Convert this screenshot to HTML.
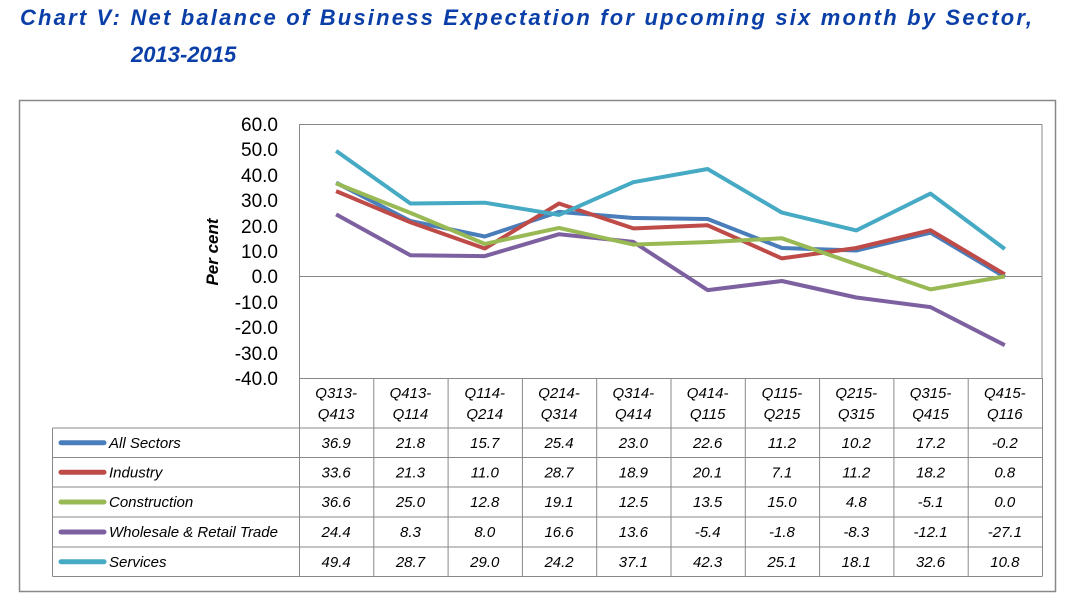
<!DOCTYPE html>
<html><head><meta charset="utf-8"><style>
body{margin:0;background:#fff;width:1071px;height:605px;overflow:hidden}
svg text{font-family:"Liberation Sans",sans-serif}
</style></head><body>
<svg width="1071" height="605" xmlns="http://www.w3.org/2000/svg">
<text x="20" y="25" font-size="22" font-weight="bold" font-style="italic" fill="#0b3fa8" textLength="1012">Chart V: Net balance of Business Expectation for upcoming six month by Sector,</text>
<text x="131" y="62" font-size="22" font-weight="bold" font-style="italic" fill="#0b3fa8">2013-2015</text>
<rect x="19.5" y="100.5" width="1036" height="491" fill="#fff" stroke="#888" stroke-width="1.5"/>
<rect x="299.5" y="124.5" width="742.5" height="254" fill="none" stroke="#888"/>
<line x1="299" y1="276.5" x2="1042" y2="276.5" stroke="#888"/>
<g font-size="19" text-anchor="end" fill="#000">
<text x="278" y="131">60.0</text><text x="278" y="156">50.0</text><text x="278" y="182">40.0</text><text x="278" y="207">30.0</text><text x="278" y="233">20.0</text><text x="278" y="258">10.0</text><text x="278" y="283">0.0</text><text x="278" y="309">-10.0</text><text x="278" y="334">-20.0</text><text x="278" y="360">-30.0</text><text x="278" y="385">-40.0</text>
</g>
<text transform="translate(218,252) rotate(-90)" font-size="17" font-weight="bold" font-style="italic" text-anchor="middle">Per cent</text>
<g id="lines" fill="none" stroke-width="4" stroke-linejoin="round"></g>
<g id="tbl"></g>
</svg>
<script>
var data=[["All Sectors","#4a7ebb",[36.9,21.8,15.7,25.4,23.0,22.6,11.2,10.2,17.2,-0.2]],
["Industry","#be4b48",[33.6,21.3,11.0,28.7,18.9,20.1,7.1,11.2,18.2,0.8]],
["Construction","#98b954",[36.6,25.0,12.8,19.1,12.5,13.5,15.0,4.8,-5.1,0.0]],
["Wholesale & Retail Trade","#7d60a0",[24.4,8.3,8.0,16.6,13.6,-5.4,-1.8,-8.3,-12.1,-27.1]],
["Services","#46aac4",[49.4,28.7,29.0,24.2,37.1,42.3,25.1,18.1,32.6,10.8]]];
var cats=[["Q313-","Q413"],["Q413-","Q114"],["Q114-","Q214"],["Q214-","Q314"],["Q314-","Q414"],["Q414-","Q115"],["Q115-","Q215"],["Q215-","Q315"],["Q315-","Q415"],["Q415-","Q116"]];
var NS="http://www.w3.org/2000/svg",L=299,W=74.3;
function el(t,a,p,txt){var e=document.createElementNS(NS,t);for(var k in a)e.setAttribute(k,a[k]);if(txt!=null)e.textContent=txt;p.appendChild(e);return e;}
var lg=document.getElementById("lines"),tb=document.getElementById("tbl");
var order=[3,0,1,2,4];
order.forEach(function(i){var d=data[i];var pts=d[2].map(function(v,j){return (L+W/2+j*W).toFixed(1)+","+(276.4-v*2.54).toFixed(1)}).join(" ");
el("polyline",{points:pts,stroke:d[1]},lg);});
var rows=[378,428,457.5,487,517,547,576.5];
var g={stroke:"#888","stroke-width":1};
// header verticals
for(var j=0;j<=10;j++){var x=L+j*W+0.5;el("line",Object.assign({x1:x,y1:378,x2:x,y2:576.5},g),tb);}
el("line",Object.assign({x1:52.5,y1:428,x2:52.5,y2:576.5},g),tb);
for(var r=1;r<rows.length;r++)el("line",Object.assign({x1:52.5,y1:rows[r],x2:1042,y2:rows[r]},g),tb);
cats.forEach(function(c,j){var x=L+W/2+j*W;el("text",{x:x,y:398,"font-size":15,"font-style":"italic","text-anchor":"middle"},tb,c[0]);el("text",{x:x,y:419,"font-size":15,"font-style":"italic","text-anchor":"middle"},tb,c[1]);});
data.forEach(function(d,i){var y=(rows[i+1]+rows[i+2])/2+5;
el("line",{x1:61,y1:y-5,x2:104,y2:y-5,stroke:d[1],"stroke-width":5,"stroke-linecap":"round"},tb);
el("text",{x:109,y:y,"font-size":15,"font-style":"italic"},tb,d[0]);
d[2].forEach(function(v,j){el("text",{x:L+W/2+j*W,y:y,"font-size":15,"font-style":"italic","text-anchor":"middle"},tb,v.toFixed(1));});});
</script>
</body></html>
